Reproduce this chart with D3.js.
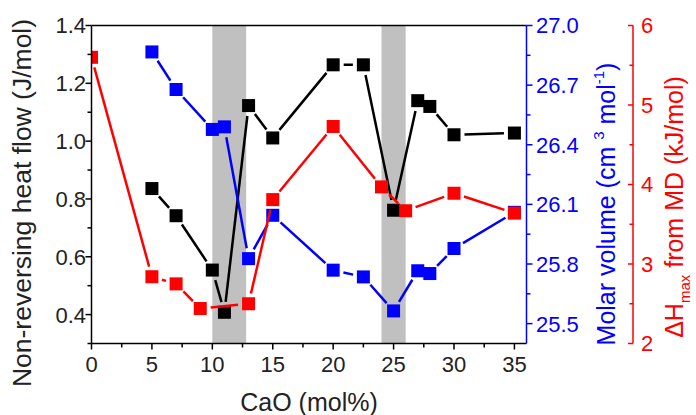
<!DOCTYPE html>
<html>
<head>
<meta charset="utf-8">
<script src="https://cdn.jsdelivr.net/npm/d3@7/dist/d3.min.js"></script>
<style>
  html, body { margin: 0; padding: 0; background: #fff; }
  svg { display: block; font-family: "Liberation Sans", Arial, sans-serif; }
</style>
</head>
<body>
<svg id="chart" width="696" height="415"></svg>
<script>
// CaO content (mol%) for the heat-flow and molar-volume series
const caoHeat = [5, 7, 10, 11, 13, 15, 20, 22.5, 25, 27, 28, 30, 35];
const heatFlow = [0.836, 0.742, 0.554, 0.408, 1.123, 1.011, 1.264, 1.264, 0.761, 1.14, 1.12, 1.022, 1.028];

const caoVolume = [5, 7, 10, 11, 13, 15, 20, 22.5, 25, 27, 28, 30, 35];
const molarVolume = [26.867, 26.678, 26.477, 26.49, 25.827, 26.045, 25.769, 25.735, 25.564, 25.766, 25.752, 25.878, 26.06];

// CaO content (mol%) for the MD enthalpy series
const caoEnthalpy = [0, 5, 7, 9, 13, 15, 20, 24, 26, 30, 35];
const enthalpyMax = [5.6, 2.84, 2.75, 2.44, 2.50, 3.81, 4.73, 3.97, 3.67, 3.89, 3.64];

// Shaded composition windows
const bandStart = [10, 24];
const bandEnd = [12.8, 26];

// Tick values
const xMajor = [0, 5, 10, 15, 20, 25, 30, 35];
const xMinor = [2.5, 7.5, 12.5, 17.5, 22.5, 27.5, 32.5];
const leftMajor = [0.4, 0.6, 0.8, 1.0, 1.2, 1.4];
const leftMinor = [0.3, 0.5, 0.7, 0.9, 1.1, 1.3];
const volMajor = [25.5, 25.8, 26.1, 26.4, 26.7, 27.0];
const volMinor = [25.65, 25.95, 26.25, 26.55, 26.85];
const enthMajor = [2, 3, 4, 5, 6];
const enthMinor = [2.5, 3.5, 4.5, 5.5];

const svg = d3.select("#chart");
const pL = 91.5, pR = 526.5, pT = 25.5, pB = 343.5;

const x = d3.scaleLinear().domain([0, 36]).range([pL, pR]);
const yHeat = d3.scaleLinear().domain([0.3, 1.4]).range([pB, pT]);
const yVol = d3.scaleLinear().domain([25.4, 27.0]).range([pB, pT]);
const yEnth = d3.scaleLinear().domain([2, 6]).range([pB, pT]);

svg.append("defs").append("clipPath").attr("id", "plotClip")
  .append("rect").attr("x", pL).attr("y", pT).attr("width", pR - pL).attr("height", pB - pT);

// shaded bands
svg.append("g").selectAll("rect").data(bandStart).join("rect")
  .attr("x", (d) => x(d))
  .attr("width", (d, i) => x(bandEnd[i]) - x(d))
  .attr("y", pT).attr("height", pB - pT)
  .attr("fill", "#c0c0c0");

const plot = svg.append("g").attr("clip-path", "url(#plotClip)");

// line segments with a gap around each symbol, then square symbols
function drawSeries(xs, ys, yScale, color) {
  const pts = xs.map((v, i) => [x(v), yScale(ys[i])]);
  const gap = 10.5;
  const segs = [];
  for (let i = 0; i < pts.length - 1; i++) {
    const [x1, y1] = pts[i], [x2, y2] = pts[i + 1];
    const len = Math.hypot(x2 - x1, y2 - y1);
    if (len <= 2 * gap) continue;
    const ux = (x2 - x1) / len, uy = (y2 - y1) / len;
    segs.push([x1 + ux * gap, y1 + uy * gap, x2 - ux * gap, y2 - uy * gap]);
  }
  const g = plot.append("g");
  g.selectAll("line").data(segs).join("line")
    .attr("x1", (d) => d[0]).attr("y1", (d) => d[1])
    .attr("x2", (d) => d[2]).attr("y2", (d) => d[3])
    .attr("stroke", color).attr("stroke-width", 2.5);
  const s = 13;
  g.selectAll("rect").data(pts).join("rect")
    .attr("x", (d) => d[0] - s / 2).attr("y", (d) => d[1] - s / 2)
    .attr("width", s).attr("height", s)
    .attr("fill", color);
}

drawSeries(caoHeat, heatFlow, yHeat, "#000000");
drawSeries(caoVolume, molarVolume, yVol, "#0000ff");
drawSeries(caoEnthalpy, enthalpyMax, yEnth, "#ff0000");

// frame
const axisW = 1.5;
svg.append("line").attr("x1", pL).attr("x2", pR).attr("y1", pT).attr("y2", pT)
  .attr("stroke", "#000").attr("stroke-width", axisW);

// bottom axis
const gx = svg.append("g");
gx.append("line").attr("x1", pL).attr("x2", pR).attr("y1", pB).attr("y2", pB)
  .attr("stroke", "#000").attr("stroke-width", axisW);
gx.selectAll("line.maj").data(xMajor).join("line").attr("class", "maj")
  .attr("x1", (d) => x(d)).attr("x2", (d) => x(d)).attr("y1", pB).attr("y2", pB + 6)
  .attr("stroke", "#000").attr("stroke-width", axisW);
gx.selectAll("line.min").data(xMinor).join("line").attr("class", "min")
  .attr("x1", (d) => x(d)).attr("x2", (d) => x(d)).attr("y1", pB).attr("y2", pB + 4)
  .attr("stroke", "#000").attr("stroke-width", axisW);
gx.selectAll("text").data(xMajor).join("text")
  .attr("x", (d) => x(d)).attr("y", 371.5)
  .attr("text-anchor", "middle").attr("font-size", 22).attr("fill", "#222")
  .text((d) => d);

// left axis
const gl = svg.append("g");
gl.append("line").attr("x1", pL).attr("x2", pL).attr("y1", pT).attr("y2", pB)
  .attr("stroke", "#000").attr("stroke-width", axisW);
gl.selectAll("line.maj").data(leftMajor).join("line").attr("class", "maj")
  .attr("x1", pL - 6).attr("x2", pL).attr("y1", (d) => yHeat(d)).attr("y2", (d) => yHeat(d))
  .attr("stroke", "#000").attr("stroke-width", axisW);
gl.selectAll("line.min").data(leftMinor).join("line").attr("class", "min")
  .attr("x1", pL - 4).attr("x2", pL).attr("y1", (d) => yHeat(d)).attr("y2", (d) => yHeat(d))
  .attr("stroke", "#000").attr("stroke-width", axisW);
gl.selectAll("text").data(leftMajor).join("text")
  .attr("x", 86).attr("y", (d) => yHeat(d)).attr("dy", "0.36em")
  .attr("text-anchor", "end").attr("font-size", 22).attr("fill", "#222")
  .text((d) => d3.format(".1f")(d));

// right molar volume axis
const blue = "#0000ff";
const gb = svg.append("g");
gb.append("line").attr("x1", pR).attr("x2", pR).attr("y1", pT).attr("y2", pB)
  .attr("stroke", blue).attr("stroke-width", axisW);
gb.selectAll("line.maj").data(volMajor).join("line").attr("class", "maj")
  .attr("x1", pR).attr("x2", pR + 6).attr("y1", (d) => yVol(d)).attr("y2", (d) => yVol(d))
  .attr("stroke", blue).attr("stroke-width", axisW);
gb.selectAll("line.min").data(volMinor).join("line").attr("class", "min")
  .attr("x1", pR).attr("x2", pR + 4).attr("y1", (d) => yVol(d)).attr("y2", (d) => yVol(d))
  .attr("stroke", blue).attr("stroke-width", axisW);
gb.selectAll("text").data(volMajor).join("text")
  .attr("x", 536).attr("y", (d) => yVol(d)).attr("dy", "0.36em")
  .attr("font-size", 22).attr("fill", blue)
  .text((d) => d3.format(".1f")(d));

// right enthalpy axis
const red = "#ff0000";
const axR = 633;
const gr = svg.append("g");
gr.append("line").attr("x1", axR).attr("x2", axR).attr("y1", pT).attr("y2", pB)
  .attr("stroke", red).attr("stroke-width", axisW);
gr.selectAll("line.maj").data(enthMajor).join("line").attr("class", "maj")
  .attr("x1", axR - 5).attr("x2", axR).attr("y1", (d) => yEnth(d)).attr("y2", (d) => yEnth(d))
  .attr("stroke", red).attr("stroke-width", axisW);
gr.selectAll("line.min").data(enthMinor).join("line").attr("class", "min")
  .attr("x1", axR - 3.5).attr("x2", axR).attr("y1", (d) => yEnth(d)).attr("y2", (d) => yEnth(d))
  .attr("stroke", red).attr("stroke-width", axisW);
gr.selectAll("text").data(enthMajor).join("text")
  .attr("x", 641).attr("y", (d) => yEnth(d)).attr("dy", "0.36em")
  .attr("font-size", 22).attr("fill", red)
  .text((d) => d);

// axis titles
svg.append("text")
  .attr("x", 309).attr("y", 411)
  .attr("text-anchor", "middle").attr("font-size", 25).attr("fill", "#222")
  .text("CaO (mol%)");

svg.append("text")
  .attr("transform", "translate(31,203) rotate(-90)")
  .attr("text-anchor", "middle").attr("font-size", 26.5).attr("fill", "#222")
  .text("Non-reversing heat flow (J/mol)");

const tb = svg.append("text")
  .attr("transform", "translate(615,204) rotate(-90)")
  .attr("text-anchor", "middle").attr("font-size", 25).attr("fill", blue);
tb.append("tspan").text("Molar volume (cm ");
tb.append("tspan").attr("font-size", 15).attr("dy", -11).text("3");
tb.append("tspan").attr("dy", 11).text(" mol");
tb.append("tspan").attr("font-size", 15).attr("dy", -11).text("-1");
tb.append("tspan").attr("dy", 11).text(")");

const tr = svg.append("text")
  .attr("transform", "translate(683,207) rotate(-90)")
  .attr("text-anchor", "middle").attr("font-size", 25).attr("fill", red);
tr.append("tspan").text("\u0394H");
tr.append("tspan").attr("font-size", 15).attr("dy", 7).text("max");
tr.append("tspan").attr("dy", -7).text(" from MD (kJ/mol)");
</script>
</body>
</html>
